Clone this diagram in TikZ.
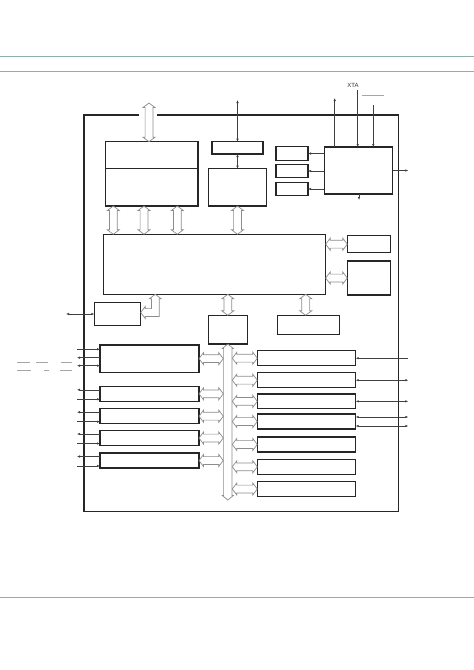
\documentclass[tikz,border=0pt]{standalone}
\usepackage{fontspec}
\setmainfont{Liberation Sans}
\usepackage{xcolor}
\usetikzlibrary{arrows.meta, positioning, calc}

\definecolor{rulecol}{HTML}{8FAFAA}

% hollow double-headed bus arrow: start, end, shaft half width, head half width
\newcommand{\wbus}[4]{%
  \draw[wide] let \p1=#1, \p2=#2,
      \n1={atan2(\y2-\y1,\x2-\x1)}, \n2={veclen(\x2-\x1,\y2-\y1)} in
    {[shift={(\p1)}, rotate=\n1]
    (0pt,0pt) -- (4.5pt,#4) -- (4.5pt,#3) -- (\n2-4.5pt,#3) -- (\n2-4.5pt,#4) -- (\n2,0pt)
    -- (\n2-4.5pt,-#4) -- (\n2-4.5pt,-#3) -- (4.5pt,-#3) -- (4.5pt,-#4) -- cycle};}

\begin{document}
\begin{tikzpicture}[
    x=1pt, y=-1pt,
    blk/.style={draw=black!85, line width=1.1pt, inner sep=0pt, outer sep=0pt, anchor=north west, minimum width=#1},
    blk/.default=99pt,
    arr/.style={-{Latex[length=3pt, width=2.4pt]}, draw=black!75, line width=0.5pt},
    arrboth/.style={{Latex[length=3pt, width=2.4pt]}-{Latex[length=3pt, width=2.4pt]}, draw=black!75, line width=0.5pt},
    wide/.style={draw=black!45, line width=0.7pt, line join=miter},
    ovl/.style={draw=gray!70, line width=0.6pt},
    rule/.style={draw=rulecol, line width=0.8pt}
]
    \useasboundingbox (0,0) rectangle (474,670);

    % Page rules
    \draw[rule] (0,56) -- (474,56);
    \draw[rule] (0,71) -- (474,71);
    \draw[rule] (0,597) -- (474,597);

    % Chip outline
    \draw[draw=black!85, line width=1.1pt] (139,115) -| (84,511.7) -| (398.5,115) -- (157,115);

    % Memory and core tier
    \node[blk=92.3pt, minimum height=27pt] (mem) at (105.7,141.7) {};
    \node[blk=92.3pt, minimum height=37.3pt, below=0pt of mem] (memlow) {};
    \node[blk=51pt, minimum height=12.3pt] (dbg) at (212,141.7) {};
    \node[blk=58.7pt, minimum height=37.3pt, below=14.7pt of dbg] (core) {};

    % Clock tier
    \node[blk=32pt, minimum height=13.6pt] (s1) at (276,146.7) {};
    \node[blk=32pt, minimum height=13.4pt, below=4pt of s1] (s2) {};
    \node[blk=32pt, minimum height=13.4pt, below=4.6pt of s2] (s3) {};
    \node[blk=68.4pt, minimum height=47pt] (clk) at (324.3,147) {};
    \node[font=\fontsize{6}{7}\selectfont, text=black!80, inner sep=0pt] (xtalbl) at (353,85.5) {XTA};

    % Bus matrix tier
    \node[blk=222.4pt, minimum height=60pt] (ahb) at (103.3,234.3) {};
    \node[blk=43.4pt, minimum height=17pt] (prt1) at (347.3,235.7) {};
    \node[blk=43.4pt, minimum height=34pt] (prt2) at (347.3,261) {};
    \node[blk=46.4pt, minimum height=23.4pt] (ext) at (94.3,302.3) {};
    \node[blk=39pt, minimum height=28.7pt] (bridge) at (208.3,315.3) {};
    \node[blk=62pt, minimum height=19.4pt] (dma) at (277.3,315.3) {};

    % Left peripherals
    \node[blk, minimum height=27.3pt] (pl1) at (100,345) {};
    \node[blk, minimum height=15pt, below=14pt of pl1] (pl2) {};
    \node[blk, minimum height=15pt, below=7.4pt of pl2] (pl3) {};
    \node[blk, minimum height=14.6pt, below=7pt of pl3] (pl4) {};
    \node[blk, minimum height=15pt, below=7.7pt of pl4] (pl5) {};

    % Right peripherals
    \node[blk=98.4pt, minimum height=15pt] (pr1) at (257.3,350.7) {};
    \node[blk=98.4pt, minimum height=15pt, below=7pt of pr1] (pr2) {};
    \node[blk=98.4pt, minimum height=14.7pt, below=6.3pt of pr2] (pr3) {};
    \node[blk=98.4pt, minimum height=15pt, below=5.3pt of pr3] (pr4) {};
    \node[blk=98.4pt, minimum height=15pt, below=8pt of pr4] (pr5) {};
    \node[blk=98.4pt, minimum height=15pt, below=7.3pt of pr5] (pr6) {};
    \node[blk=98.4pt, minimum height=14.6pt, below=7.4pt of pr6] (pr7) {};

    % Free ends and columns
    \coordinate (topio) at (149,103);
    \coordinate (swd) at (237.5,100);
    \coordinate (clkout) at (334.7,98);
    \coordinate (xtain) at (357.7,90);
    \coordinate (rstin) at (373.3,105);
    \coordinate (clkr) at (408.3,170.5);
    \coordinate (clkd) at (359,200);
    \coordinate (extio) at (66,314);
    \coordinate (busend) at (227.8,500);
    \coordinate (busl) at (223.3,0);
    \coordinate (busr) at (232.3,0);
    \coordinate (lio) at (77,0);
    \coordinate (rio) at (408.3,0);
    \coordinate (c1) at (113.3,0);
    \coordinate (c2) at (144,0);
    \coordinate (c3) at (177.3,0);
    \coordinate (c4) at (155.3,0);
    \coordinate (c5) at (305.7,0);

    % Wide buses
    \wbus{(topio)}{(topio |- mem.north)}{3.9pt}{6pt}
    \wbus{(memlow.south -| c1)}{(ahb.north -| c1)}{3.9pt}{6pt}
    \wbus{(memlow.south -| c2)}{(ahb.north -| c2)}{3.9pt}{6pt}
    \wbus{(memlow.south -| c3)}{(ahb.north -| c3)}{3.9pt}{6pt}
    \wbus{(core.south)}{(core.south |- ahb.north)}{3.9pt}{6pt}
    \wbus{(ahb.east |- prt1)}{(prt1.west)}{3.9pt}{6pt}
    \wbus{(ahb.east |- prt2)}{(prt2.west)}{3.9pt}{6pt}
    \wbus{(ahb.south -| bridge)}{(bridge.north)}{3.9pt}{6pt}
    \wbus{(ahb.south -| c5)}{(dma.north -| c5)}{3.9pt}{6pt}
    \wbus{(bridge.south)}{(busend)}{4.2pt}{5.5pt}
    \wbus{(pl1.east)}{(pl1 -| busl)}{3.9pt}{6pt}
    \wbus{(pl2.east)}{(pl2 -| busl)}{3.9pt}{6pt}
    \wbus{(pl3.east)}{(pl3 -| busl)}{3.9pt}{6pt}
    \wbus{(pl4.east)}{(pl4 -| busl)}{3.9pt}{6pt}
    \wbus{(pl5.east)}{(pl5 -| busl)}{3.9pt}{6pt}
    \wbus{(busr |- pr1)}{(pr1.west)}{3.9pt}{6pt}
    \wbus{(busr |- pr2)}{(pr2.west)}{3.9pt}{6pt}
    \wbus{(busr |- pr3)}{(pr3.west)}{3.9pt}{6pt}
    \wbus{(busr |- pr4)}{(pr4.west)}{3.9pt}{6pt}
    \wbus{(busr |- pr5)}{(pr5.west)}{3.9pt}{6pt}
    \wbus{(busr |- pr6)}{(pr6.west)}{3.9pt}{6pt}
    \wbus{(busr |- pr7)}{(pr7.west)}{3.9pt}{6pt}
    % elbow bus to external memory controller
    \draw[wide] let \p1=(ahb.south -| c4), \p2=([yshift=1.5pt]ext.east) in
      (\x1,\y1) -- (\x1+6pt,\y1-4.5pt) -- (\x1+3.9pt,\y1-4.5pt) -- (\x1+3.9pt,\y2-3.9pt)
      -- (\x2+4.5pt,\y2-3.9pt) -- (\x2+4.5pt,\y2-6pt) -- (\x2,\y2) -- (\x2+4.5pt,\y2+6pt)
      -- (\x2+4.5pt,\y2+3.9pt) -- (\x1-3.9pt,\y2+3.9pt) -- (\x1-3.9pt,\y1-4.5pt)
      -- (\x1-6pt,\y1-4.5pt) -- cycle;

    % Thin signals, top
    \draw[arrboth] (swd) -- (dbg.north);
    \draw[arrboth] (dbg.south) -- (core.north);
    \draw[arr] (clk.west |- s1) -- (s1.east);
    \draw[arr] (clk.west |- s2) -- (s2.east);
    \draw[arr] (clk.west |- s3) -- (s3.east);
    \draw[arr] (clk.north -| clkout) -- (clkout);
    \draw[arr] (xtain) -- (xtain |- clk.north);
    \draw[arr] (rstin) -- (rstin |- clk.north);
    \draw[ovl] (362,95.7) -- (384.3,95.7);
    \draw[arr] (clk.east) -- (clkr);
    \draw[arr] (clk.south -| clkd) -- (clkd);
    \draw[arrboth] (extio) -- (ext.west);

    % Thin signals, left pins
    \draw[arr] ([yshift=9.4pt]pl1.west -| lio) -- ([yshift=9.4pt]pl1.west);
    \draw[arr] ([yshift=1pt]pl1.west) -- ([yshift=1pt]pl1.west -| lio);
    \draw[arrboth] ([yshift=-7pt]pl1.west) -- ([yshift=-7pt]pl1.west -| lio);
    \draw[ovl] (17,362.3) -- (30,362.3) (36,362.3) -- (48,362.3) (61,362.3) -- (72,362.3);
    \draw[ovl] (17,370) -- (31,370) (44,370) -- (49,370) (60,370) -- (72,370);
    \draw[arr] ([yshift=4pt]pl2.west) -- ([yshift=4pt]pl2.west -| lio);
    \draw[arr] ([yshift=-5.5pt]pl2.west -| lio) -- ([yshift=-5.5pt]pl2.west);
    \draw[arr] ([yshift=4pt]pl3.west) -- ([yshift=4pt]pl3.west -| lio);
    \draw[arr] ([yshift=-5.5pt]pl3.west -| lio) -- ([yshift=-5.5pt]pl3.west);
    \draw[arr] ([yshift=4pt]pl4.west) -- ([yshift=4pt]pl4.west -| lio);
    \draw[arr] ([yshift=-5.5pt]pl4.west -| lio) -- ([yshift=-5.5pt]pl4.west);
    \draw[arr] ([yshift=4pt]pl5.west) -- ([yshift=4pt]pl5.west -| lio);
    \draw[arr] ([yshift=-5.5pt]pl5.west -| lio) -- ([yshift=-5.5pt]pl5.west);

    % Thin signals, right pins
    \draw[arr] (rio |- pr1) -- (pr1.east);
    \draw[arrboth] (pr2.east) -- (rio |- pr2);
    \draw[arrboth] (pr3.east) -- (rio |- pr3);
    \draw[arrboth] ([yshift=4.5pt]pr4.east) -- ([yshift=4.5pt]pr4.east -| rio);
    \draw[arrboth] ([yshift=-4.5pt]pr4.east) -- ([yshift=-4.5pt]pr4.east -| rio);
\end{tikzpicture}
\end{document}
